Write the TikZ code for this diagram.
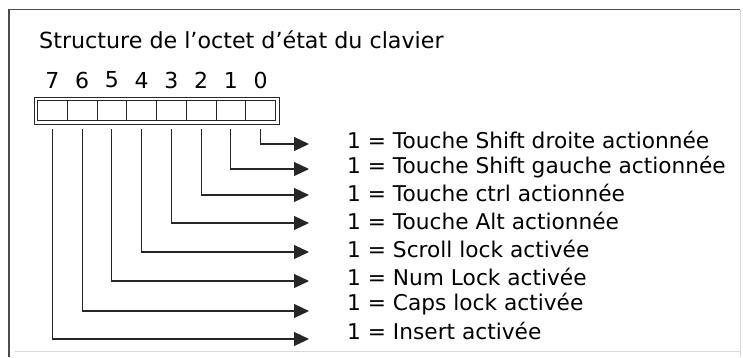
\documentclass[tikz,border=0pt]{standalone}
\usepackage{fontspec}
\setmainfont{DejaVu Sans}
\usetikzlibrary{arrows.meta}
\begin{document}
\begin{tikzpicture}[x=1pt,y=-1pt,
  lbl/.style={anchor=west,inner sep=0pt,font=\fontsize{21.7}{22}\selectfont},
  bitnum/.style={inner sep=0pt,font=\fontsize{22}{22}\selectfont},
  conn/.style={line width=1.1pt,draw=black!85,-{Triangle[length=15pt,width=14pt]}},
  cellline/.style={line width=1pt,draw=black!85}]
\useasboundingbox (0,0) rectangle (743,357);
% frame
\draw[line width=1.2pt,black!70] (9,357) -- (9,9.5) -- (740,9.5);
\draw[line width=0.8pt,black!15] (740,9.5) -- (740,357);
\draw[line width=0.8pt,black!15] (15,351) -- (740,351);
% title
\node[anchor=west,inner sep=0pt,font=\fontsize{22.2}{23}\selectfont] (title) at (39,40) {Structure de l'octet d'état du clavier};
% byte box
\draw[cellline] (34,97) rectangle (279,124);
\draw[cellline] (37.5,100.5) rectangle (275.5,120.5);
\foreach \i in {1,...,7} {
  \draw[cellline] ({37.5+29.75*\i},100.5) -- ({37.5+29.75*\i},120.5);
}
% bit numbers and coordinates
\foreach \b/\k in {7/0,6/1,5/2,4/3,3/4,2/5,1/6,0/7} {
  \node[bitnum] (n\b) at ({52.4+29.75*\k},80) {\b};
  \coordinate (s\b) at ({52.4+29.75*\k},129);
}
% labels
\node[lbl] (l0) at (347,140) {1 = Touche Shift droite actionnée};
\node[lbl] (l1) at (347,167) {1 = Touche Shift gauche actionnée};
\node[lbl] (l2) at (347,193) {1 = Touche ctrl actionnée};
\node[lbl] (l3) at (347,221) {1 = Touche Alt actionnée};
\node[lbl] (l4) at (347,249) {1 = Scroll lock activée};
\node[lbl] (l5) at (347,277) {1 = Num Lock activée};
\node[lbl] (l6) at (347,304) {1 = Caps lock activée};
\node[lbl] (l7) at (347,331) {1 = Insert activée};
% arrow tips
\foreach \b/\y in {0/144,1/169,2/195,3/223,4/252,5/281,6/311,7/339} {
  \coordinate (t\b) at (309,\y);
  \draw[conn] (s\b) |- (t\b);
}
\end{tikzpicture}
\end{document}
